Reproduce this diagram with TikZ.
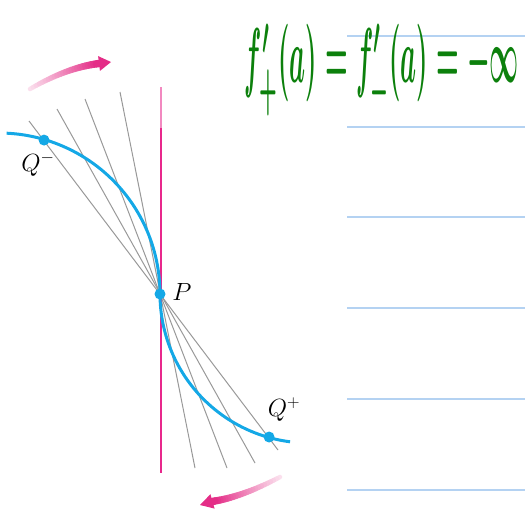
\documentclass[tikz,border=0pt]{standalone}
\usepackage{graphicx}
\definecolor{curveblue}{RGB}{20,168,230}
\definecolor{vmag}{RGB}{232,40,140}
\definecolor{amag}{RGB}{228,45,135}
\definecolor{ruleblue}{RGB}{180,210,242}
\definecolor{hgreen}{RGB}{12,128,12}
\newcommand\myfadearc[8]{%
  % #1,#2 = start, #3,#4 = control, #5,#6 = end of shaft, #7,#8 = tip
  \foreach \i in {0,...,23}{%
    \pgfmathsetmacro\ta{\i/24}%
    \pgfmathsetmacro\tb{(\i+1)/24}%
    \pgfmathsetmacro\xa{(1-\ta)*(1-\ta)*#1+2*(1-\ta)*\ta*#3+\ta*\ta*#5}%
    \pgfmathsetmacro\ya{(1-\ta)*(1-\ta)*#2+2*(1-\ta)*\ta*#4+\ta*\ta*#6}%
    \pgfmathsetmacro\xb{(1-\tb)*(1-\tb)*#1+2*(1-\tb)*\tb*#3+\tb*\tb*#5}%
    \pgfmathsetmacro\yb{(1-\tb)*(1-\tb)*#2+2*(1-\tb)*\tb*#4+\tb*\tb*#6}%
    \pgfmathtruncatemacro\pc{15+85*\i/23}%
    \pgfmathsetmacro\lw{4.5+3*\ta}%
    \draw[line width=\lw pt, color=amag!\pc!white, line cap=round] (\xa,\ya) -- (\xb,\yb);
  }%
  \pgfmathsetmacro\ang{atan2(-(#8-#6),#7-#5)}%
  \fill[amag, shift={(#5,#6)}, rotate=\ang] (0,0) -- (0,7.5) -- ({veclen(#7-#5,#8-#6)},0) -- (0,-7.5) -- cycle;
}
\begin{document}
\begin{tikzpicture}[x=1pt,y=-1pt,
  rule/.style={draw=ruleblue, line width=1.2pt},
  secant/.style={draw=gray!80, line width=1pt},
  vline/.style={draw=vmag, line width=2pt},
  curve/.style={draw=curveblue, line width=3pt},
  dot/.style={circle, fill=curveblue, inner sep=0pt, minimum size=11pt},
  lab/.style={font=\fontsize{23}{27}\selectfont, inner sep=0pt}]
\useasboundingbox (0,0) rectangle (525,515);

% ruled lines
\foreach \y in {36,127,217,308,399,490}
  \draw[rule] (347,\y) -- (525,\y);

% secant lines through P
\coordinate (s1a) at (29,121);  \coordinate (s1b) at (278,450);
\coordinate (s2a) at (57,109);  \coordinate (s2b) at (255,463);
\coordinate (s3a) at (85,99);   \coordinate (s3b) at (227,468);
\coordinate (s4a) at (120,92);  \coordinate (s4b) at (195,468);
\foreach \k in {1,2,3,4}
  \draw[secant] (s\k a) -- (s\k b);

% vertical tangent line
\coordinate (vtop) at (161,87);
\coordinate (vmid) at (161,128);
\coordinate (vbot) at (161,473);
\draw[vline, draw=vmag!55!white] (vtop) -- (vmid);
\draw[vline] (vmid) -- (vbot);

% the curve
\draw[curve] plot[domain=-87.3:0, samples=60, variable=\a] ({-1+161*cos(\a)},{294+161*sin(\a)});
\draw[curve] plot[domain=180:97.3, samples=60, variable=\a] ({309+149*cos(\a)},{294+149*sin(\a)});

% points
\node[dot] (P) at (160,294) {};
\node[dot] (Qm) at ({-1+160.4*cos(-73.7)},{294+160.4*sin(-73.7)}) {};
\node[dot] (Qp) at ({309+148.5*cos(105.6)},{294+148.5*sin(105.6)}) {};

% labels
\node[lab] (Plab) at (182,292) {$P$};
\node[lab] (Qmlab) at (38,164) {$Q^{-}$};
\node[lab] (Qplab) at (284,410) {$Q^{+}$};

% rotation arrows
\myfadearc{30}{89}{67}{67.5}{99}{63.5}{111}{62}
\myfadearc{280}{477}{242}{497}{212.5}{501.4}{200}{505}

% handwritten formula
\node[text=hgreen, inner sep=0pt] (formula) at (382,70)
  {\resizebox*{274pt}{92pt}{\boldmath$f'_{+}(a)=f'_{-}(a)=-\infty$}};
\end{tikzpicture}
\end{document}
